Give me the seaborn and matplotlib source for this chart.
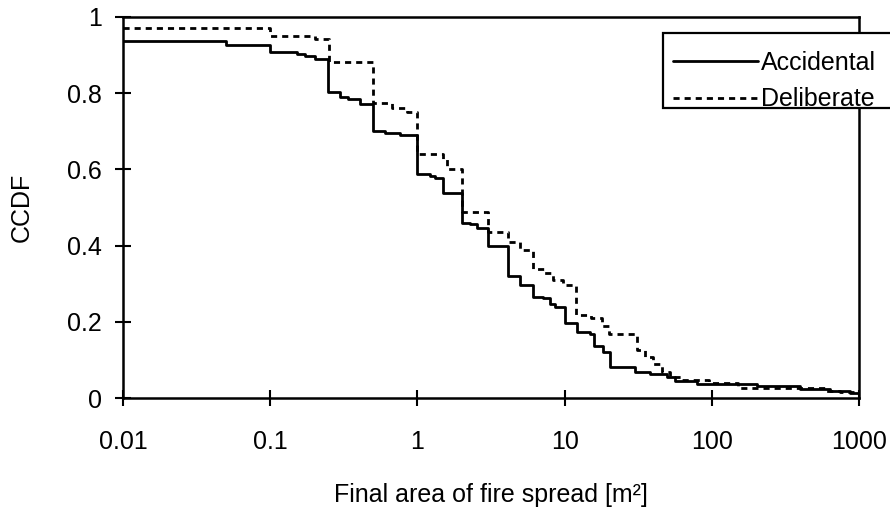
import matplotlib
matplotlib.use("Agg")
import matplotlib.pyplot as plt
from matplotlib.patches import Rectangle
import seaborn as sns
import pandas as pd

# ---- data ----
acc_x = [0.01, 0.05, 0.1, 0.152, 0.172, 0.201, 0.247, 0.298, 0.338, 0.407, 0.5, 0.603, 0.762,
         1.0, 1.22, 1.32, 1.5, 2.0, 2.28, 2.54, 3.0, 4.1, 4.98, 6.1, 7.13, 7.96, 8.6, 10.0,
         12.1, 14.9, 15.8, 18.2, 20.5, 30.0, 38.0, 49.6, 56.0, 79.0, 203.0, 398.0, 635.0, 870.0, 1000.0]
acc_y = [0.937, 0.926, 0.909, 0.904, 0.898, 0.891, 0.804, 0.790, 0.785, 0.772, 0.700, 0.696, 0.690,
         0.587, 0.583, 0.578, 0.537, 0.460, 0.457, 0.446, 0.400, 0.320, 0.297, 0.266, 0.262, 0.247, 0.238, 0.197,
         0.174, 0.168, 0.137, 0.122, 0.082, 0.069, 0.063, 0.054, 0.045, 0.037, 0.031, 0.024, 0.018, 0.012, 0.012]

del_x = [0.01, 0.1, 0.2, 0.25, 0.5, 0.672, 0.85, 1.0, 1.5, 1.6, 2.0, 3.0, 4.1, 5.0, 6.1, 7.3, 8.3, 9.8,
         12.0, 15.0, 18.0, 20.0, 31.0, 35.0, 40.0, 46.0, 52.0, 63.0, 95.0, 150.0, 600.0, 740.0, 1000.0]
del_y = [0.972, 0.951, 0.942, 0.883, 0.774, 0.761, 0.751, 0.640, 0.627, 0.601, 0.489, 0.437, 0.410, 0.388,
         0.339, 0.329, 0.310, 0.297, 0.218, 0.210, 0.190, 0.168, 0.126, 0.108, 0.089, 0.069, 0.055, 0.047,
         0.039, 0.026, 0.018, 0.015, 0.015]

series_names = ["Accidental", "Deliberate"]
x_ticks = [0.01, 0.1, 1, 10, 100, 1000]
x_tick_labels = ["0.01", "0.1", "1", "10", "100", "1000"]
y_ticks = [0, 0.2, 0.4, 0.6, 0.8, 1.0]
y_tick_labels = ["0", "0.2", "0.4", "0.6", "0.8", "1"]

sns.set_style("white")
plt.rcParams["font.family"] = ["Liberation Sans", "DejaVu Sans"]
plt.rcParams["text.color"] = "black"
plt.rcParams["axes.labelcolor"] = "black"
plt.rcParams["xtick.color"] = "black"
plt.rcParams["ytick.color"] = "black"

fig = plt.figure(figsize=(8.9, 5.08), dpi=100)
ax = fig.add_axes([123 / 890, 1 - 398 / 508, (859 - 123) / 890, (398 - 17) / 508])

df_acc = pd.DataFrame({"x": acc_x, "y": acc_y})
df_del = pd.DataFrame({"x": del_x, "y": del_y})

sns.lineplot(data=df_acc, x="x", y="y", ax=ax, color="black", lw=2.0,
             drawstyle="steps-post", estimator=None, sort=False, label=series_names[0])
sns.lineplot(data=df_del, x="x", y="y", ax=ax, color="black", lw=2.0,
             linestyle=(0, (2.2, 1.8)), drawstyle="steps-post",
             estimator=None, sort=False, label=series_names[1])

ax.set_xscale("log")
ax.set_xlim(0.01, 1000)
ax.set_ylim(0, 1)
ax.set_xticks(x_ticks)
ax.set_xticklabels(x_tick_labels)
ax.set_yticks(y_ticks)
ax.set_yticklabels(y_tick_labels)
ax.minorticks_off()
ax.tick_params(axis="both", direction="inout", length=12, width=1.5, colors="black",
               labelsize=18, left=True, bottom=True)
ax.tick_params(axis="x", pad=17)
ax.tick_params(axis="y", pad=9)

for s in ax.spines.values():
    s.set_visible(True)
    s.set_color("black")
    s.set_linewidth(1.8)

ax.set_xlabel("Final area of fire spread [m²]", fontsize=18, labelpad=21)
ax.set_ylabel("CCDF", fontsize=18, labelpad=24)

handles, labels = ax.get_legend_handles_labels()
ax.get_legend().remove()

# legend frame (extends past the right edge of the figure, as in the reference)
frame = Rectangle((663 / 890, 1 - 108 / 508), 240 / 890, 75 / 508,
                  transform=fig.transFigure, facecolor="white", edgecolor="black",
                  linewidth=1.6, zorder=3, clip_on=False)
fig.add_artist(frame)

leg = fig.legend(handles, labels, loc="upper left", bbox_to_anchor=(673 / 890, 1 - 51 / 508),
                 bbox_transform=fig.transFigure, borderaxespad=0, fontsize=18,
                 frameon=False, handlelength=3.4, handletextpad=0.12,
                 labelspacing=0.5, borderpad=0)
leg.set_zorder(5)

fig.savefig("out.png", dpi=100)
